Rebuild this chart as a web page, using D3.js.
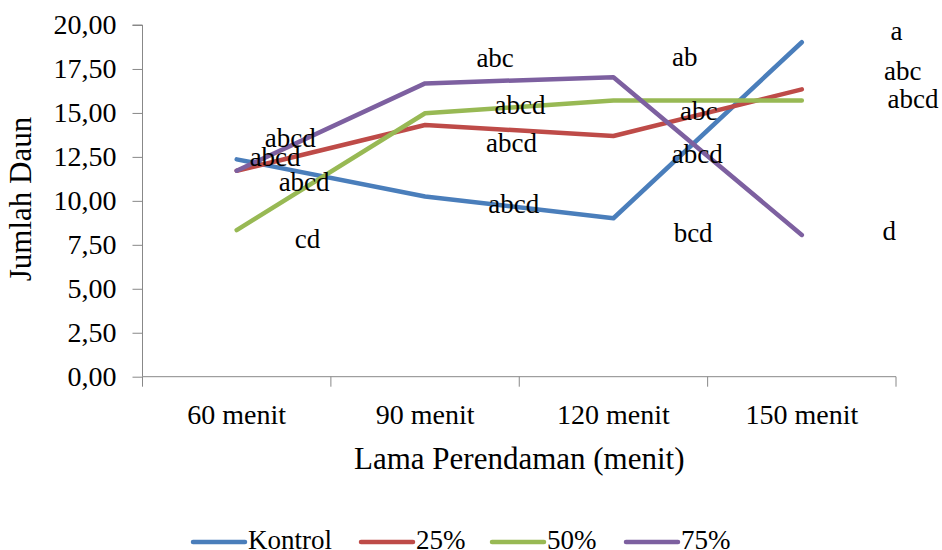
<!DOCTYPE html>
<html>
<head>
<meta charset="utf-8">
<script src="https://cdn.jsdelivr.net/npm/d3@7"></script>
<style>
  html, body { margin: 0; padding: 0; background: #fff; }
  svg text { font-family: "Liberation Serif", "Times New Roman", serif; fill: #000; }
</style>
</head>
<body>
<svg id="chart" width="942" height="550"></svg>
<script>
// ---- data ----
const categories = ["60 menit", "90 menit", "120 menit", "150 menit"];
const seriesNames = ["Kontrol", "25%", "50%", "75%"];
const kontrol = [12.36, 10.25, 9.01, 19.02];
const p25 = [11.71, 14.31, 13.69, 16.34];
const p50 = [8.34, 14.98, 15.70, 15.70];
const p75 = [11.71, 16.68, 17.03, 8.06];
const yTicks = [0, 2.5, 5, 7.5, 10, 12.5, 15, 17.5, 20];
// significance letters per series (one per category)
const lettersKontrol = ["abcd", "abcd", "bcd", "a"];
const letters25 = ["abcd", "abcd", "abcd", "abc"];
const letters50 = ["cd", "abcd", "abc", "abcd"];
const letters75 = ["abcd", "abc", "ab", "d"];
// letter anchors in data space: [fractional category index, value]
const letterPosKontrol = [[0.358, 10.56], [1.471, 9.33], [2.423, 7.68], [3.502, 19.15]];
const letterPos25 = [[0.204, 12.0], [1.459, 12.79], [2.445, 12.14], [3.536, 16.87]];
const letterPos50 = [[0.376, 7.30], [1.504, 14.94], [2.453, 14.60], [3.590, 15.26]];
const letterPos75 = [[0.284, 13.08], [1.372, 17.63], [2.379, 17.67], [3.464, 7.77]];

const colors = ["#4A7EBB", "#BE4B48", "#98B954", "#7D60A0"];
const seriesValues = [kontrol, p25, p50, p75];
const seriesLetters = [lettersKontrol, letters25, letters50, letters75];
const seriesLetterPos = [letterPosKontrol, letterPos25, letterPos50, letterPos75];

// ---- layout ----
const svg = d3.select("#chart");
const m = { left: 142.5, right: 896, top: 25, bottom: 376.7 };
const axisColor = "#888";

const x = d3.scaleBand().domain(categories).range([m.left, m.right]).padding(0);
const xc = c => x(c) + x.bandwidth() / 2;
const xi = i => x(categories[0]) + x.bandwidth() / 2 + i * x.bandwidth();
const y = d3.scaleLinear().domain([0, 20]).range([m.bottom, m.top]);

const fmt = v => d3.format(".2f")(v).replace(".", ",");

// y axis
const yAxis = d3.axisLeft(y).tickValues(yTicks).tickFormat(fmt).tickSize(10).tickPadding(16);
const gy = svg.append("g").attr("transform", `translate(${m.left},0)`).call(yAxis);
gy.select(".domain").attr("stroke", axisColor).attr("d", `M-10,${y(20)}H0V${y(0)}`);
gy.selectAll(".tick line").attr("stroke", axisColor);
gy.selectAll(".tick text").attr("font-family", "Liberation Serif").attr("font-size", 28).attr("fill", "#111");

// x axis
const gx = svg.append("g").attr("transform", `translate(0,${m.bottom})`);
gx.append("line").attr("x1", m.left).attr("x2", m.right).attr("stroke", axisColor);
const boundaries = categories.map(c => x(c)).concat([x(categories[categories.length - 1]) + x.bandwidth()]);
gx.selectAll("line.tk").data(boundaries).join("line").attr("class", "tk")
  .attr("x1", d => d).attr("x2", d => d).attr("y1", 0).attr("y2", 10).attr("stroke", axisColor);
gx.selectAll("text.xl").data(categories).join("text").attr("class", "xl")
  .attr("x", d => xc(d)).attr("y", 47).attr("text-anchor", "middle")
  .attr("font-size", 28).attr("fill", "#111").text(d => d);

// axis titles
svg.append("text").attr("x", (m.left + m.right) / 2).attr("y", 469).attr("text-anchor", "middle")
  .attr("font-size", 31).text("Lama Perendaman (menit)");
svg.append("text").attr("transform", "translate(31,199) rotate(-90)").attr("text-anchor", "middle")
  .attr("font-size", 31).text("Jumlah Daun");

// lines
const line = d3.line().x((d, i) => xc(categories[i])).y(d => y(d));
seriesValues.forEach((vals, s) => {
  svg.append("path").datum(vals).attr("d", line).attr("fill", "none")
    .attr("stroke", colors[s]).attr("stroke-width", 4.5)
    .attr("stroke-linejoin", "round").attr("stroke-linecap", "round");
});

// letters
seriesLetters.forEach((lets, s) => {
  svg.selectAll(null).data(lets).join("text")
    .attr("x", (d, i) => xi(seriesLetterPos[s][i][0]))
    .attr("y", (d, i) => y(seriesLetterPos[s][i][1]))
    .attr("text-anchor", "middle").attr("font-size", 27).text(d => d);
});

// legend
const legendX = [193, 361, 492, 626];
const lg = svg.append("g");
seriesNames.forEach((n, s) => {
  lg.append("line").attr("x1", legendX[s]).attr("x2", legendX[s] + 52).attr("y1", 542).attr("y2", 542)
    .attr("stroke", colors[s]).attr("stroke-width", 4.5).attr("stroke-linecap", "round");
  lg.append("text").attr("x", legendX[s] + 55).attr("y", 549).attr("font-size", 27).attr("fill", "#111").text(n);
});
</script>
</body>
</html>
